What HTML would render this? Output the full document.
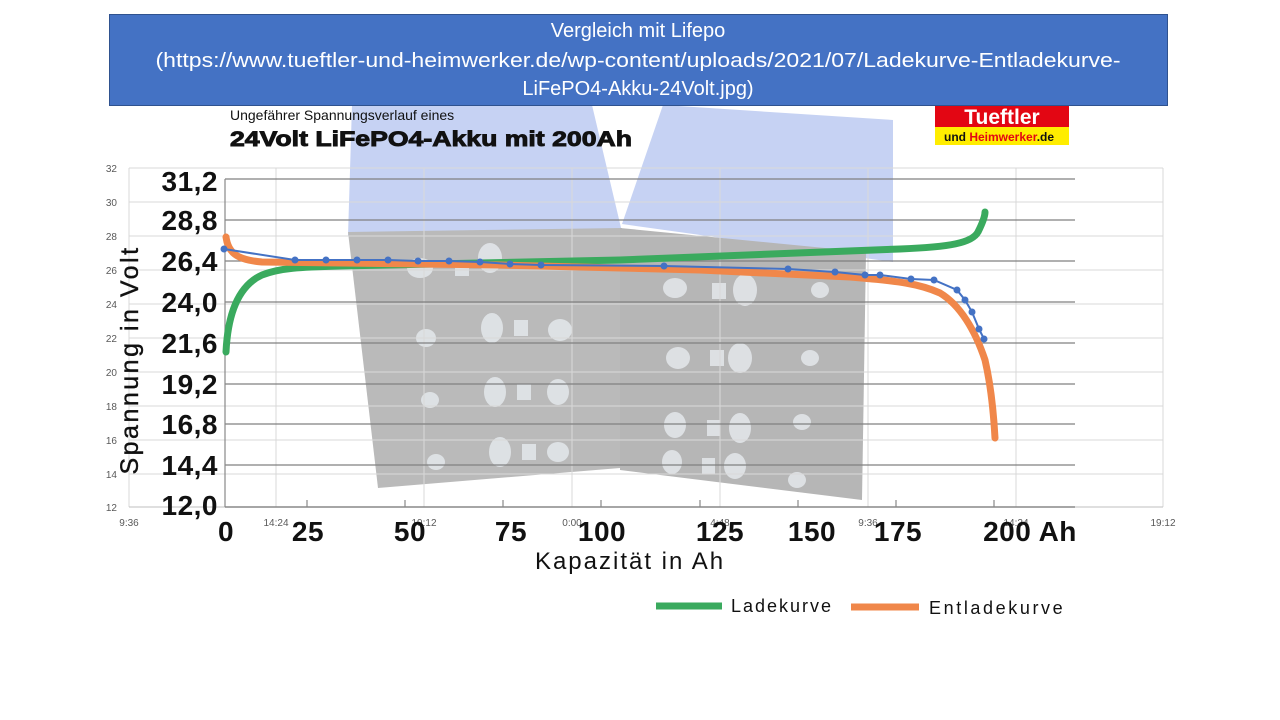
<!DOCTYPE html>
<html><head><meta charset="utf-8"><style>
html,body{margin:0;padding:0;background:#fff;}
svg{display:block;}
</style></head><body>
<svg width="1280" height="720" viewBox="0 0 1280 720" xmlns="http://www.w3.org/2000/svg" font-family="Liberation Sans, sans-serif">
<rect width="1280" height="720" fill="#fff"/>
<!-- light blue shapes -->
<polygon points="352,105 592,105 622,232 348,236" fill="#c6d2f3"/>
<polygon points="663,105 893,120 893,262 622,224" fill="#c6d2f3"/>
<!-- battery gray blocks -->
<polygon points="348,232 622,228 620,468 378,488" fill="#bababa"/>
<polygon points="620,228 866,252 862,500 620,470" fill="#b6b6b6"/>
<g fill="#e4e8ec" opacity="0.85">
<ellipse cx="420" cy="268" rx="13" ry="10"/><rect x="455" y="260" width="14" height="16"/><ellipse cx="490" cy="258" rx="12" ry="15"/>
<ellipse cx="426" cy="338" rx="10" ry="9"/><ellipse cx="492" cy="328" rx="11" ry="15"/><rect x="514" y="320" width="14" height="16"/><ellipse cx="560" cy="330" rx="12" ry="11"/>
<ellipse cx="430" cy="400" rx="9" ry="8"/><ellipse cx="495" cy="392" rx="11" ry="15"/><rect x="517" y="384" width="14" height="16"/><ellipse cx="558" cy="392" rx="11" ry="13"/>
<ellipse cx="436" cy="462" rx="9" ry="8"/><ellipse cx="500" cy="452" rx="11" ry="15"/><rect x="522" y="444" width="14" height="16"/><ellipse cx="558" cy="452" rx="11" ry="10"/>
<ellipse cx="675" cy="288" rx="12" ry="10"/><rect x="712" y="283" width="14" height="16"/><ellipse cx="745" cy="290" rx="12" ry="16"/><ellipse cx="820" cy="290" rx="9" ry="8"/>
<ellipse cx="678" cy="358" rx="12" ry="11"/><rect x="710" y="350" width="14" height="16"/><ellipse cx="740" cy="358" rx="12" ry="15"/><ellipse cx="810" cy="358" rx="9" ry="8"/>
<ellipse cx="675" cy="425" rx="11" ry="13"/><rect x="707" y="420" width="13" height="16"/><ellipse cx="740" cy="428" rx="11" ry="15"/><ellipse cx="802" cy="422" rx="9" ry="8"/>
<ellipse cx="672" cy="462" rx="10" ry="12"/><rect x="702" y="458" width="13" height="16"/><ellipse cx="735" cy="466" rx="11" ry="13"/><ellipse cx="797" cy="480" rx="9" ry="8"/>
</g>
<!-- excel light gridlines -->
<g stroke="#d9d9d9" stroke-width="1">
<line x1="129" y1="168" x2="1163" y2="168"/><line x1="129" y1="202" x2="1163" y2="202"/><line x1="129" y1="236" x2="1163" y2="236"/><line x1="129" y1="270" x2="1163" y2="270"/><line x1="129" y1="304" x2="1163" y2="304"/><line x1="129" y1="338" x2="1163" y2="338"/><line x1="129" y1="372" x2="1163" y2="372"/><line x1="129" y1="406" x2="1163" y2="406"/><line x1="129" y1="440" x2="1163" y2="440"/><line x1="129" y1="474" x2="1163" y2="474"/>
<line x1="129" y1="168" x2="129" y2="507"/><line x1="276" y1="168" x2="276" y2="507"/><line x1="424" y1="168" x2="424" y2="507"/><line x1="572" y1="168" x2="572" y2="507"/><line x1="720" y1="168" x2="720" y2="507"/><line x1="868" y1="168" x2="868" y2="507"/><line x1="1016" y1="168" x2="1016" y2="507"/><line x1="1163" y1="168" x2="1163" y2="507"/>
</g>
<line x1="129" y1="507" x2="1163" y2="507" stroke="#bfbfbf"/>
<!-- inner dark gridlines -->
<g stroke="#808080" stroke-width="1.2">
<line x1="225" y1="179" x2="1075" y2="179"/><line x1="225" y1="220" x2="1075" y2="220"/><line x1="225" y1="261" x2="1075" y2="261"/><line x1="225" y1="302" x2="1075" y2="302"/><line x1="225" y1="343" x2="1075" y2="343"/><line x1="225" y1="384" x2="1075" y2="384"/><line x1="225" y1="424" x2="1075" y2="424"/><line x1="225" y1="465" x2="1075" y2="465"/>
</g>
<line x1="225" y1="179" x2="225" y2="507" stroke="#888" stroke-width="1.2"/>
<line x1="225" y1="507" x2="1075" y2="507" stroke="#888" stroke-width="1.5"/>
<g stroke="#888" stroke-width="1.2">
<line x1="307" y1="500" x2="307" y2="507"/><line x1="405" y1="500" x2="405" y2="507"/><line x1="503" y1="500" x2="503" y2="507"/><line x1="601" y1="500" x2="601" y2="507"/><line x1="700" y1="500" x2="700" y2="507"/><line x1="798" y1="500" x2="798" y2="507"/><line x1="896" y1="500" x2="896" y2="507"/><line x1="994" y1="500" x2="994" y2="507"/>
</g>
<!-- curves -->
<path d="M226,352 C228,310 240,285 262,275 C280,268 300,267 340,266 L620,260 L900,249 C950,247 972,243 978,232 C983,222 985,215 985,212" fill="none" stroke="#3aaa5e" stroke-width="7" stroke-linecap="round"/>
<path d="M226,237 C228,252 236,260 262,262 L500,265 L700,270 L850,277 C900,281 920,284 940,293 C960,305 975,330 985,360 C992,390 994,420 995,438" fill="none" stroke="#f0874a" stroke-width="7" stroke-linecap="round"/>
<polyline points="224,249 295,260 326,260 357,260 388,260 418,261 449,261 480,262 510,264 541,265 664,266 788,269 835,272 865,275 880,275 911,279 934,280 957,290 965,300 972,312 979,329 984,339" fill="none" stroke="#4472c4" stroke-width="2"/>
<g fill="#4472c4">
<circle cx="224" cy="249" r="3.5"/><circle cx="295" cy="260" r="3.5"/><circle cx="326" cy="260" r="3.5"/><circle cx="357" cy="260" r="3.5"/><circle cx="388" cy="260" r="3.5"/><circle cx="418" cy="261" r="3.5"/><circle cx="449" cy="261" r="3.5"/><circle cx="480" cy="262" r="3.5"/><circle cx="510" cy="264" r="3.5"/><circle cx="541" cy="265" r="3.5"/><circle cx="664" cy="266" r="3.5"/><circle cx="788" cy="269" r="3.5"/><circle cx="835" cy="272" r="3.5"/><circle cx="865" cy="275" r="3.5"/><circle cx="880" cy="275" r="3.5"/><circle cx="911" cy="279" r="3.5"/><circle cx="934" cy="280" r="3.5"/><circle cx="957" cy="290" r="3.5"/><circle cx="965" cy="300" r="3.5"/><circle cx="972" cy="312" r="3.5"/><circle cx="979" cy="329" r="3.5"/><circle cx="984" cy="339" r="3.5"/>
</g>
<!-- excel small labels -->
<g font-size="10" fill="#595959" text-anchor="end">
<text x="117" y="172">32</text><text x="117" y="206">30</text><text x="117" y="240">28</text><text x="117" y="274">26</text><text x="117" y="308">24</text><text x="117" y="342">22</text><text x="117" y="376">20</text><text x="117" y="410">18</text><text x="117" y="444">16</text><text x="117" y="478">14</text><text x="117" y="511">12</text>
</g>
<g font-size="10" fill="#595959" text-anchor="middle">
<text x="129" y="526">9:36</text><text x="276" y="526">14:24</text><text x="424" y="526">19:12</text><text x="572" y="526">0:00</text><text x="720" y="526">4:48</text><text x="868" y="526">9:36</text><text x="1016" y="526">14:24</text><text x="1163" y="526">19:12</text>
</g>
<!-- big tick labels -->
<g font-size="28" font-weight="bold" fill="#111" text-anchor="end" letter-spacing="0.5">
<text x="218" y="191">31,2</text><text x="218" y="230">28,8</text><text x="218" y="271">26,4</text><text x="218" y="312">24,0</text><text x="218" y="353">21,6</text><text x="218" y="394">19,2</text><text x="218" y="434">16,8</text><text x="218" y="475">14,4</text><text x="218" y="515">12,0</text>
</g>
<g font-size="28" font-weight="bold" fill="#111" text-anchor="middle" letter-spacing="0.5">
<text x="226" y="541">0</text><text x="308" y="541">25</text><text x="410" y="541">50</text><text x="511" y="541">75</text><text x="602" y="541">100</text><text x="720" y="541">125</text><text x="812" y="541">150</text><text x="898" y="541">175</text><text x="1030" y="541">200 Ah</text>
</g>
<text x="630" y="569" font-size="24" fill="#111" text-anchor="middle" letter-spacing="2">Kapazität in Ah</text>
<text transform="translate(138,360) rotate(-90)" font-size="25" fill="#111" text-anchor="middle" letter-spacing="2.5" stroke="#111" stroke-width="0.4">Spannung in Volt</text>
<!-- titles -->
<text x="230" y="120" font-size="14" fill="#111">Ungefährer Spannungsverlauf eines</text>
<text x="230" y="146" font-size="21" font-weight="bold" fill="#111" stroke="#111" stroke-width="0.9" textLength="402" lengthAdjust="spacingAndGlyphs">24Volt LiFePO4-Akku mit 200Ah</text>
<!-- logo -->
<rect x="935" y="104" width="134" height="23" fill="#e30613"/>
<rect x="935" y="127" width="134" height="18" fill="#ffed00"/>
<text x="1002" y="124" font-size="21" font-weight="bold" fill="#fff" text-anchor="middle">Tueftler</text>
<text x="944" y="141" font-size="12" font-weight="bold" fill="#111">und <tspan fill="#e30613">Heimwerker</tspan>.de</text>
<!-- legend -->
<line x1="656" y1="606" x2="722" y2="606" stroke="#3aaa5e" stroke-width="7"/>
<text x="731" y="612" font-size="18" fill="#111" letter-spacing="2">Ladekurve</text>
<line x1="851" y1="607" x2="919" y2="607" stroke="#f0874a" stroke-width="7"/>
<text x="929" y="614" font-size="18" fill="#111" letter-spacing="2.6">Entladekurve</text>
<!-- blue header -->
<rect x="109.5" y="14.5" width="1058" height="91" fill="#4472c4" stroke="#2f528f" stroke-width="1"/>
<g font-size="20" fill="#fff" text-anchor="middle">
<text x="638" y="37">Vergleich mit Lifepo</text>
<text x="638" y="67" textLength="965" lengthAdjust="spacingAndGlyphs">(https://www.tueftler-und-heimwerker.de/wp-content/uploads/2021/07/Ladekurve-Entladekurve-</text>
<text x="638" y="95">LiFePO4-Akku-24Volt.jpg)</text>
</g>
</svg>
</body></html>
